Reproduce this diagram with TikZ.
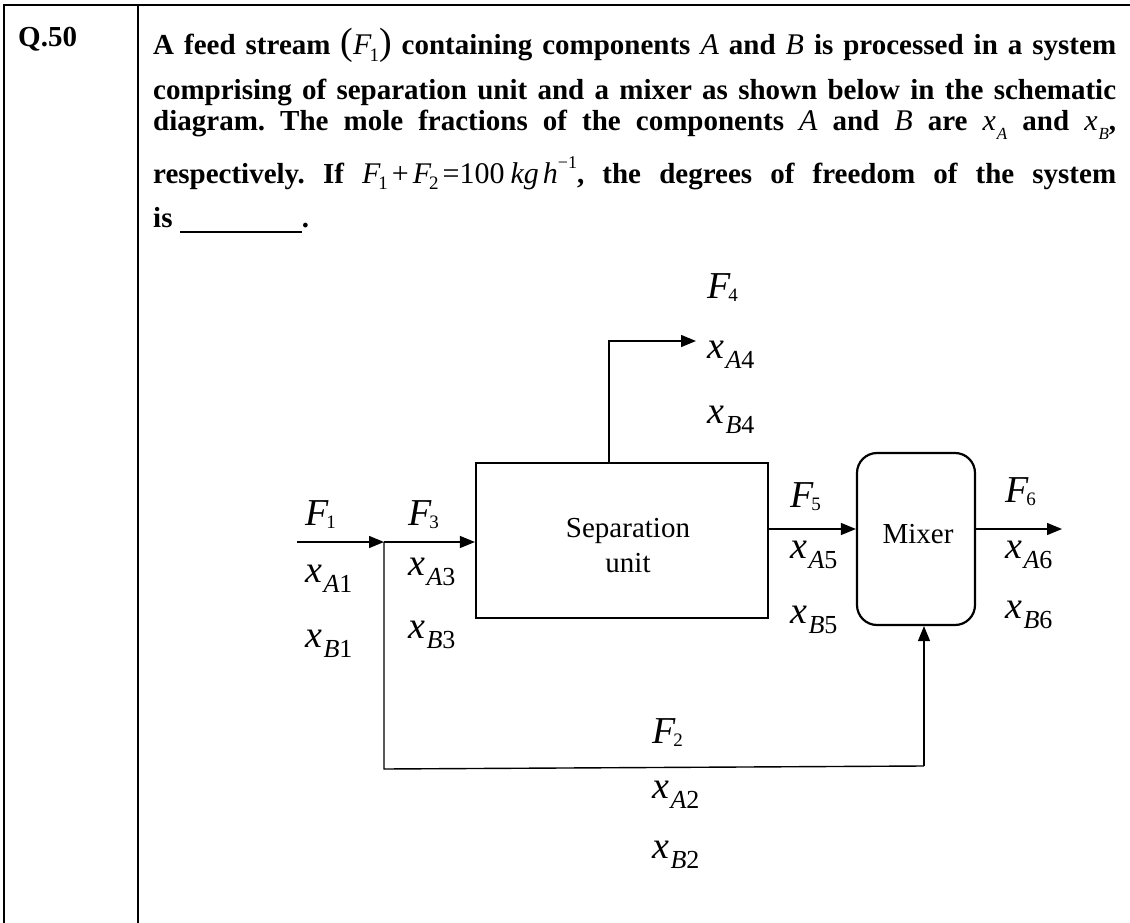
\documentclass[tikz,border=0pt]{standalone}
\usepackage{fontspec}
\setmainfont{Liberation Serif}
\usetikzlibrary{arrows.meta}
\frenchspacing
\newcommand\mi[1]{{\mdseries\itshape\fontsize{30}{34}\selectfont #1}}
\newcommand\qsub[1]{\raisebox{-0.22em}{\mdseries\upshape\fontsize{19}{19}\selectfont #1}}
\newcommand\qsubit[1]{\raisebox{-0.3em}{\mdseries\itshape\fontsize{17}{17}\selectfont #1}}
\newcommand\bpar[1]{{\mdseries\upshape\fontsize{38}{38}\selectfont #1}}
\newcommand\Fl[1]{{\fontsize{38}{38}\selectfont\itshape F}\kern-2pt\raisebox{-3pt}{\fontsize{19}{19}\selectfont #1}}
\newcommand\xl[2]{{\fontsize{38}{38}\selectfont\itshape x}\kern1.5pt\raisebox{-10pt}{\fontsize{26}{26}\selectfont\itshape #1\upshape #2}}
\begin{document}
\begin{tikzpicture}[x=1pt,y=-1pt,
  qline/.style={anchor=base west,inner sep=0pt,font=\fontsize{29}{34}\selectfont\bfseries},
  lbl/.style={anchor=base west,inner sep=0pt},
  unit/.style={draw,line width=2.2pt,inner sep=0pt,font=\fontsize{29}{34}\selectfont,align=center},
  flow/.style={line width=1.4pt,-{Triangle[length=15pt,width=12pt]}},
  plain/.style={line width=1.4pt},
  frame/.style={line width=2pt}]
\useasboundingbox (0,0) rectangle (1130,923);
% table frame
\draw[frame] (4,5) -- (1130,5);
\draw[frame] (4,4) -- (4,923);
\draw[frame] (138,5) -- (138,923);
\node[qline] (q) at (18,47) {Q.50};
\node[qline] (l1) at (153,55) {\makebox[963pt][s]{A feed stream \bpar{(}\mi{F}\kern-2pt\qsub{1}\bpar{)} containing components \mi{A} and \mi{B} is processed in a system}};
\node[qline] (l2) at (153,100) {\makebox[963pt][s]{comprising of separation unit and a mixer as shown below in the schematic}};
\node[qline] (l3) at (153,131) {\makebox[963pt][s]{diagram. The mole fractions of the components \mi{A} and \mi{B} are \mi{x}\kern1pt\qsubit{A} and \mi{x}\kern1pt\qsubit{B},}};
\node[qline] (l4) at (153,183) {\makebox[963pt][s]{respectively. If \mi{F}\kern-2pt\qsub{1}\kern4pt{\mdseries\fontsize{30}{34}\selectfont +}\kern4pt\mi{F}\kern-2pt\qsub{2}\kern4pt{\mdseries\fontsize{30}{34}\selectfont =100}\kern6pt\mi{kg}\kern4pt\mi{h}\raisebox{0.5em}{\mdseries\fontsize{18}{18}\selectfont −1}, the degrees of freedom of the system}};
\node[qline] (l5) at (153,227) {is \rule[-6pt]{122pt}{2pt}.};
% units
\node[unit,minimum width=292pt,minimum height=155pt] (sep) at (622,540.5) {};
\node[inner sep=0pt,anchor=base,font=\fontsize{29}{34}\selectfont] (septx1) at (628,537) {Separation};
\node[inner sep=0pt,anchor=base,font=\fontsize{29}{34}\selectfont] (septx2) at (628,572) {unit};
\node[unit,minimum width=118pt,minimum height=172pt,rounded corners=20pt] (mix) at (916,539) {};
\node[inner sep=0pt,anchor=base,font=\fontsize{29}{34}\selectfont] (mixtx) at (918,543) {Mixer};
% coordinates
\coordinate (in1) at (297,542);
\coordinate (split) at (384,542);
\coordinate (c4) at (609,341);
\coordinate (t4) at (696,341);
\coordinate (y5) at (0,529);
\coordinate (out6) at (1062,529);
\coordinate (bl) at (384,769);
\coordinate (br) at (924,766);
% connectors
\draw[flow] (in1) -- (split);
\draw[flow] (split) -- (sep.west |- split);
\draw[flow] (sep.north -| c4) |- (t4);
\draw[flow] (sep.east |- y5) -- (mix.west |- y5);
\draw[flow] (mix.east |- y5) -- (out6);
\draw[plain] (split) -- (bl) -- (br);
\draw[flow] (br) -- (br |- mix.south);
% labels
\node[lbl] (F1) at (305,525) {\Fl{1}};
\node[lbl] (xA1) at (305,582) {\xl{A}{1}};
\node[lbl] (xB1) at (305,647) {\xl{B}{1}};
\node[lbl] (F3) at (408,525) {\Fl{3}};
\node[lbl] (xA3) at (408,575) {\xl{A}{3}};
\node[lbl] (xB3) at (408,638) {\xl{B}{3}};
\node[lbl] (F4) at (707,298) {\Fl{4}};
\node[lbl] (xA4) at (707,358) {\xl{A}{4}};
\node[lbl] (xB4) at (707,423) {\xl{B}{4}};
\node[lbl] (F5) at (790,507) {\Fl{5}};
\node[lbl] (xA5) at (790,558) {\xl{A}{5}};
\node[lbl] (xB5) at (790,623) {\xl{B}{5}};
\node[lbl] (F6) at (1005,502) {\Fl{6}};
\node[lbl] (xA6) at (1005,558) {\xl{A}{6}};
\node[lbl] (xB6) at (1005,618) {\xl{B}{6}};
\node[lbl] (F2) at (652,743) {\Fl{2}};
\node[lbl] (xA2) at (652,798) {\xl{A}{2}};
\node[lbl] (xB2) at (652,858) {\xl{B}{2}};
\end{tikzpicture}
\end{document}
